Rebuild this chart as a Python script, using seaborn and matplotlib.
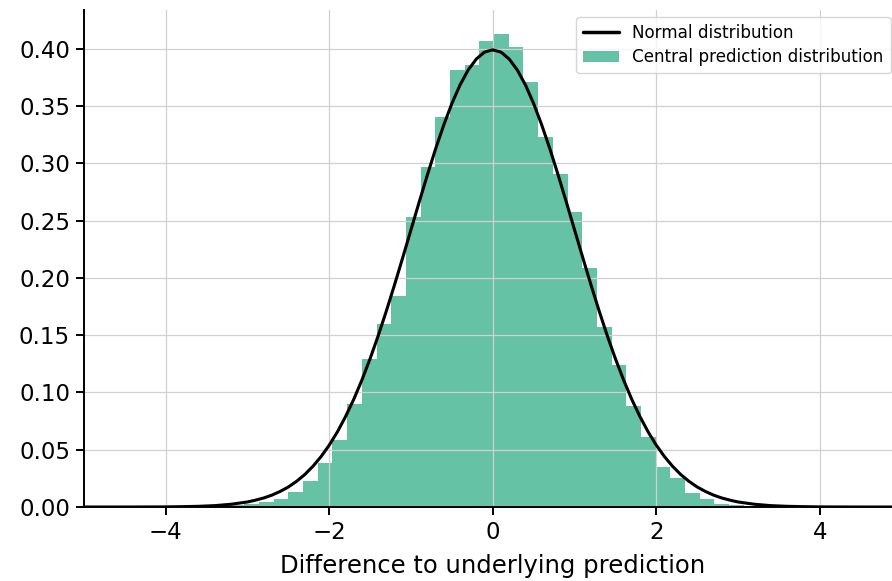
import numpy as np
import pandas as pd
import matplotlib
matplotlib.use("Agg")
import matplotlib.pyplot as plt
import seaborn as sns
from matplotlib.lines import Line2D
from matplotlib.patches import Patch

# ---- data ----
bin_index = list(range(-20, 19))
bin_heights = [0.0003, 0.0007, 0.0015, 0.0022, 0.0044, 0.0070, 0.0131, 0.0229,
               0.0386, 0.0584, 0.0898, 0.1290, 0.1595, 0.1840, 0.2527, 0.2970,
               0.3400, 0.3817, 0.3860, 0.4070, 0.4130, 0.4010, 0.3710, 0.3230,
               0.2910, 0.2570, 0.2083, 0.1570, 0.1237, 0.0880, 0.0610, 0.0350,
               0.0253, 0.0122, 0.0070, 0.0030, 0.0015, 0.0008, 0.0004]
bin_width = 0.1797
bin_origin = 0.016

curve_x = [-5.0, -4.5, -4.0, -3.8, -3.6, -3.4, -3.2, -3.0, -2.9, -2.8, -2.7, -2.6,
           -2.5, -2.4, -2.3, -2.2, -2.1, -2.0, -1.9, -1.8, -1.7, -1.6, -1.5, -1.4,
           -1.3, -1.2, -1.1, -1.0, -0.9, -0.8, -0.7, -0.6, -0.5, -0.4, -0.3, -0.2,
           -0.1, 0.0, 0.1, 0.2, 0.3, 0.4, 0.5, 0.6, 0.7, 0.8, 0.9, 1.0, 1.1, 1.2,
           1.3, 1.4, 1.5, 1.6, 1.7, 1.8, 1.9, 2.0, 2.1, 2.2, 2.3, 2.4, 2.5, 2.6,
           2.7, 2.8, 2.9, 3.0, 3.2, 3.4, 3.6, 3.8, 4.0, 4.5, 5.0]
curve_y = [0.0000, 0.0000, 0.0001, 0.0003, 0.0006, 0.0012, 0.0024, 0.0044, 0.0060,
           0.0079, 0.0104, 0.0136, 0.0175, 0.0224, 0.0283, 0.0355, 0.0440, 0.0540,
           0.0656, 0.0790, 0.0940, 0.1109, 0.1295, 0.1497, 0.1714, 0.1942, 0.2179,
           0.2420, 0.2661, 0.2897, 0.3123, 0.3332, 0.3521, 0.3683, 0.3814, 0.3910,
           0.3970, 0.3989, 0.3970, 0.3910, 0.3814, 0.3683, 0.3521, 0.3332, 0.3123,
           0.2897, 0.2661, 0.2420, 0.2179, 0.1942, 0.1714, 0.1497, 0.1295, 0.1109,
           0.0940, 0.0790, 0.0656, 0.0540, 0.0440, 0.0355, 0.0283, 0.0224, 0.0175,
           0.0136, 0.0104, 0.0079, 0.0060, 0.0044, 0.0024, 0.0012, 0.0006, 0.0003,
           0.0001, 0.0000, 0.0000]

x_ticks = [-4, -2, 0, 2, 4]
y_ticks = [0.00, 0.05, 0.10, 0.15, 0.20, 0.25, 0.30, 0.35, 0.40]
x_label = "Difference to underlying prediction"
legend_labels = ["Normal distribution", "Central prediction distribution"]

# ---- build tables ----
edges = [bin_origin + bin_width * k for k in bin_index + [bin_index[-1] + 1]]
centers = [(a + b) / 2 for a, b in zip(edges[:-1], edges[1:])]
hist_df = pd.DataFrame({"x": centers, "w": bin_heights})
curve_df = pd.DataFrame({"x": curve_x, "y": curve_y})

sns.set_theme(style="whitegrid")
plt.rcParams["font.family"] = ["DejaVu Sans"]
plt.rcParams["text.color"] = "black"
plt.rcParams["axes.labelcolor"] = "black"

bar_color = "#66c2a5"

fig = plt.figure(figsize=(8.92, 5.81), dpi=100)
# the axes spans x in [-5, 5]; its right end falls just past the picture edge
ax = fig.add_axes([84 / 892, 74 / 581, (901.5 - 84) / 892, (507 - 10) / 581])

sns.histplot(data=hist_df, x="x", weights="w", bins=edges, stat="count",
             color=bar_color, alpha=1.0, linewidth=0, ax=ax)
sns.lineplot(data=curve_df, x="x", y="y", color="black", linewidth=2.2, ax=ax,
             zorder=4)

ax.set_axisbelow(False)
ax.grid(True, color="#d0d0d0", linewidth=0.9)
for gl in ax.get_xgridlines() + ax.get_ygridlines():
    gl.set_zorder(3)

ax.set_xlim(-5.0, 5.0)
ax.set_ylim(0, 0.4337)
ax.set_xticks(x_ticks)
ax.set_yticks(y_ticks)
ax.set_yticklabels([f"{v:.2f}" for v in y_ticks])
ax.set_xlabel(x_label, fontsize=17.5, labelpad=7, color="black")
ax.set_ylabel("")

ax.tick_params(axis="both", which="major", labelsize=16.5, length=6, width=1.4,
               color="black", direction="out", bottom=True, left=True, pad=4,
               labelcolor="black")
for side in ["top", "right"]:
    ax.spines[side].set_visible(False)
for side in ["left", "bottom"]:
    ax.spines[side].set_color("black")
    ax.spines[side].set_linewidth(1.4)
    ax.spines[side].set_zorder(5)

handles = [Line2D([0], [0], color="black", linewidth=2.5),
           Patch(facecolor=bar_color, edgecolor="none")]
leg = ax.legend(handles, legend_labels, loc="upper right",
                bbox_to_anchor=(890.5 / 892, 1 - 16.5 / 581),
                bbox_transform=fig.transFigure, borderaxespad=0.0,
                fontsize=12.1, frameon=True, fancybox=True, framealpha=0.8,
                edgecolor="#cccccc", handlelength=2.1,
                borderpad=0.42, labelspacing=0.4, handletextpad=0.8)
for t in leg.get_texts():
    t.set_color("black")
leg.set_zorder(10)

fig.savefig("out.png", dpi=100)
